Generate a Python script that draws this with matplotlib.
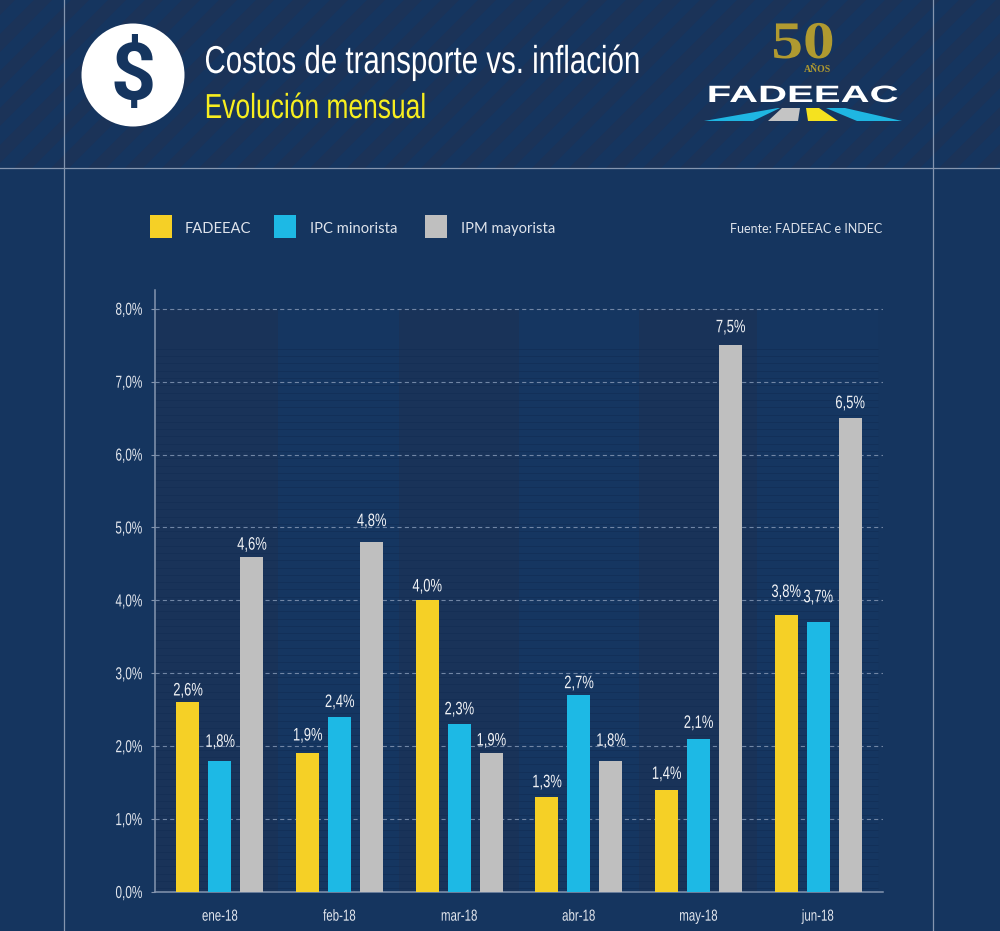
import numpy as np
import matplotlib
matplotlib.use('Agg')
import matplotlib.pyplot as plt
from matplotlib.patches import Circle, Polygon, Rectangle
from matplotlib.patheffects import AbstractPathEffect
from matplotlib.transforms import Affine2D

meses = ['ene-18', 'feb-18', 'mar-18', 'abr-18', 'may-18', 'jun-18']
fadeeac = [2.6, 1.9, 4.0, 1.3, 1.4, 3.8]
ipc = [1.8, 2.4, 2.3, 2.7, 2.1, 3.7]
ipm = [4.6, 4.8, 1.9, 1.8, 7.5, 6.5]
series_names = ['FADEEAC', 'IPC minorista', 'IPM mayorista']
yticks = [0, 1, 2, 3, 4, 5, 6, 7, 8]

# distancia etiqueta-barra en pixeles (en el original estan puestas a mano)
gap_fadeeac = [7, 13, 9, 10, 11, 18]
gap_ipc = [14, 10, 10, 7, 11, 20]
gap_ipm = [7, 16, 8, 15, 13, 10]

NAVY = '#15355f'
STRIPE = '#1b3358'
PANEL_DARK = '#193359'
PANEL_LIGHT = '#153661'
LINE = '#8495af'
W, H = 1000, 931


# no hay fuente condensada instalada, se angosta el texto al dibujarlo
class Squeeze(AbstractPathEffect):
    def __init__(self, sx, anchor='center'):
        super().__init__()
        self.sx = sx
        self.anchor = anchor

    def draw_path(self, renderer, gc, tpath, affine, rgbFace=None):
        ext = tpath.get_extents()
        x0 = {'left': ext.x0, 'center': (ext.x0 + ext.x1) / 2, 'right': ext.x1}[self.anchor]
        t = Affine2D().translate(-x0, 0).scale(self.sx, 1).translate(x0, 0) + affine
        renderer.draw_path(gc, tpath, t, rgbFace)


fig = plt.figure(figsize=(W / 100, H / 100), dpi=100, facecolor=NAVY)

# fondo en pixeles
bg = fig.add_axes([0, 0, 1, 1])
bg.set_xlim(0, W)
bg.set_ylim(H, 0)
bg.axis('off')

# rayas del encabezado
header = Rectangle((0, 0), W, 168, transform=bg.transData, facecolor='none', edgecolor='none')
bg.add_patch(header)
for x0 in range(-40, 1200, 37):
    p = Polygon([(x0, 0), (x0 + 18, 0), (x0 + 18 - 168, 168), (x0 - 168, 168)], closed=True,
                facecolor=STRIPE, edgecolor='none')
    bg.add_patch(p)
    p.set_clip_path(header)

bg.plot([0, W], [168, 168], color=LINE, lw=0.9)
bg.plot([64, 64], [0, H], color=LINE, lw=0.9)
bg.plot([933, 933], [0, H], color=LINE, lw=0.9)

# icono
bg.add_patch(Circle((133, 75), 51.5, facecolor='white', edgecolor='none'))
bg.text(133, 79, '$', color=NAVY, fontsize=57, fontweight='bold', ha='center', va='center',
        family='Roboto')

t = bg.text(204, 73, 'Costos de transporte vs. inflación', color='white', fontsize=28,
            family='Liberation Sans', ha='left', va='baseline')
t.set_path_effects([Squeeze(0.758, 'left')])
t = bg.text(204, 118, 'Evolución mensual', color='#f7ee1f', fontsize=25,
            family='Liberation Sans', ha='left', va='baseline')
t.set_path_effects([Squeeze(0.76, 'left')])

# logo
t = bg.text(803, 45, '50', color='#b09a30', fontsize=38, family='Liberation Serif', fontweight='bold',
            ha='center', va='center')
t.set_path_effects([Squeeze(1.2, 'center')])
bg.text(817, 69, 'AÑOS', color='#b09a30', fontsize=7, family='Liberation Serif', fontweight='bold',
        ha='center', va='center')
t = bg.text(803, 102, 'FADEEAC', color='white', fontsize=17, family='Liberation Sans', fontweight='bold',
            ha='center', va='baseline')
t.set_path_effects([Squeeze(1.7, 'center')])
bg.add_patch(Polygon([(704, 121), (778, 108), (780, 108), (753, 121)], facecolor='#1fb6e2', edgecolor='none'))
bg.add_patch(Polygon([(768, 121), (782, 108), (800, 108), (798, 121)], facecolor='#c4c4c4', edgecolor='none'))
bg.add_patch(Polygon([(808, 121), (806, 108), (819, 108), (838, 121)], facecolor='#f5e21f', edgecolor='none'))
bg.add_patch(Polygon([(826, 108), (845, 108), (902, 121), (857, 121)], facecolor='#1fb6e2', edgecolor='none'))

# leyenda
colors = ['#f5d026', '#1db9e5', '#bfbfbf']
legend_sq = [150, 274, 425]
legend_tx = [185, 310, 461]
for sq, tx, c, name in zip(legend_sq, legend_tx, colors, series_names):
    bg.add_patch(Rectangle((sq, 215), 22, 23, facecolor=c, edgecolor='none'))
    bg.text(tx, 229, name, color='#dfe4ec', fontsize=10.6, family='Lato', ha='left', va='center')
bg.text(882, 229, 'Fuente: FADEEAC e INDEC', color='#dfe4ec', fontsize=9, family='Lato',
        ha='right', va='center')

# grafico
left, right, top, bottom = 155, 883, 290, 892
ax = fig.add_axes([left / W, 1 - bottom / H, (right - left) / W, (bottom - top) / H])
ax.patch.set_alpha(0)
ax.set_xlim(-0.543, 5.543)
ax.set_ylim(0, (bottom - top) / 72.9)

# paneles y tramado de fondo
edges = [-0.543, 0.485, 1.5, 2.5, 3.5, 4.49, 5.5]
for i in range(6):
    ax.fill_between(edges[i:i + 2], 0, 8, color=PANEL_DARK if i % 2 == 0 else PANEL_LIGHT, lw=0, zorder=0)
ax.hlines(np.arange(0.05, 7.55, 0.1), edges[0], edges[-1], color='#102a50', lw=0.6, alpha=0.5, zorder=0.5)

ax.set_yticks(yticks)
ax.set_yticklabels(['%d,0%%' % t for t in yticks], family='Liberation Sans', fontsize=12.5, color='#e3e7ee')
ax.yaxis.grid(True, color='#7186a5', lw=0.8, dashes=(3.7, 2.9))
ax.set_axisbelow(True)
ax.set_xticks(range(len(meses)))
ax.set_xticklabels(meses, family='Liberation Sans', fontsize=11.5, color='#e3e7ee')
ax.tick_params(axis='x', length=0, pad=12)
ax.tick_params(axis='y', length=3, width=0.8, color=LINE, pad=6)
for lab in ax.get_yticklabels():
    lab.set_path_effects([Squeeze(0.68, 'right')])
for lab in ax.get_xticklabels():
    lab.set_path_effects([Squeeze(0.72, 'center')])
for s in ['top', 'right']:
    ax.spines[s].set_visible(False)
for s in ['left', 'bottom']:
    ax.spines[s].set_color(LINE)
    ax.spines[s].set_linewidth(1.1)

w = 0.192
offs = [-0.2675, 0, 0.2675]
for vals, gaps, off, c in zip([fadeeac, ipc, ipm], [gap_fadeeac, gap_ipc, gap_ipm], offs, colors):
    x = np.arange(len(meses)) + off
    ax.bar(x, vals, width=w, color=c, zorder=3)
    for xi, v, g in zip(x, vals, gaps):
        a = ax.annotate(('%.1f%%' % v).replace('.', ','), (xi, v), xytext=(0, g), textcoords='offset pixels',
                        ha='center', va='baseline', color='#f0f2f5', fontsize=13, family='Liberation Sans', zorder=4)
        a.set_path_effects([Squeeze(0.72, 'center')])

fig.savefig('out.png', dpi=100, facecolor=NAVY)
